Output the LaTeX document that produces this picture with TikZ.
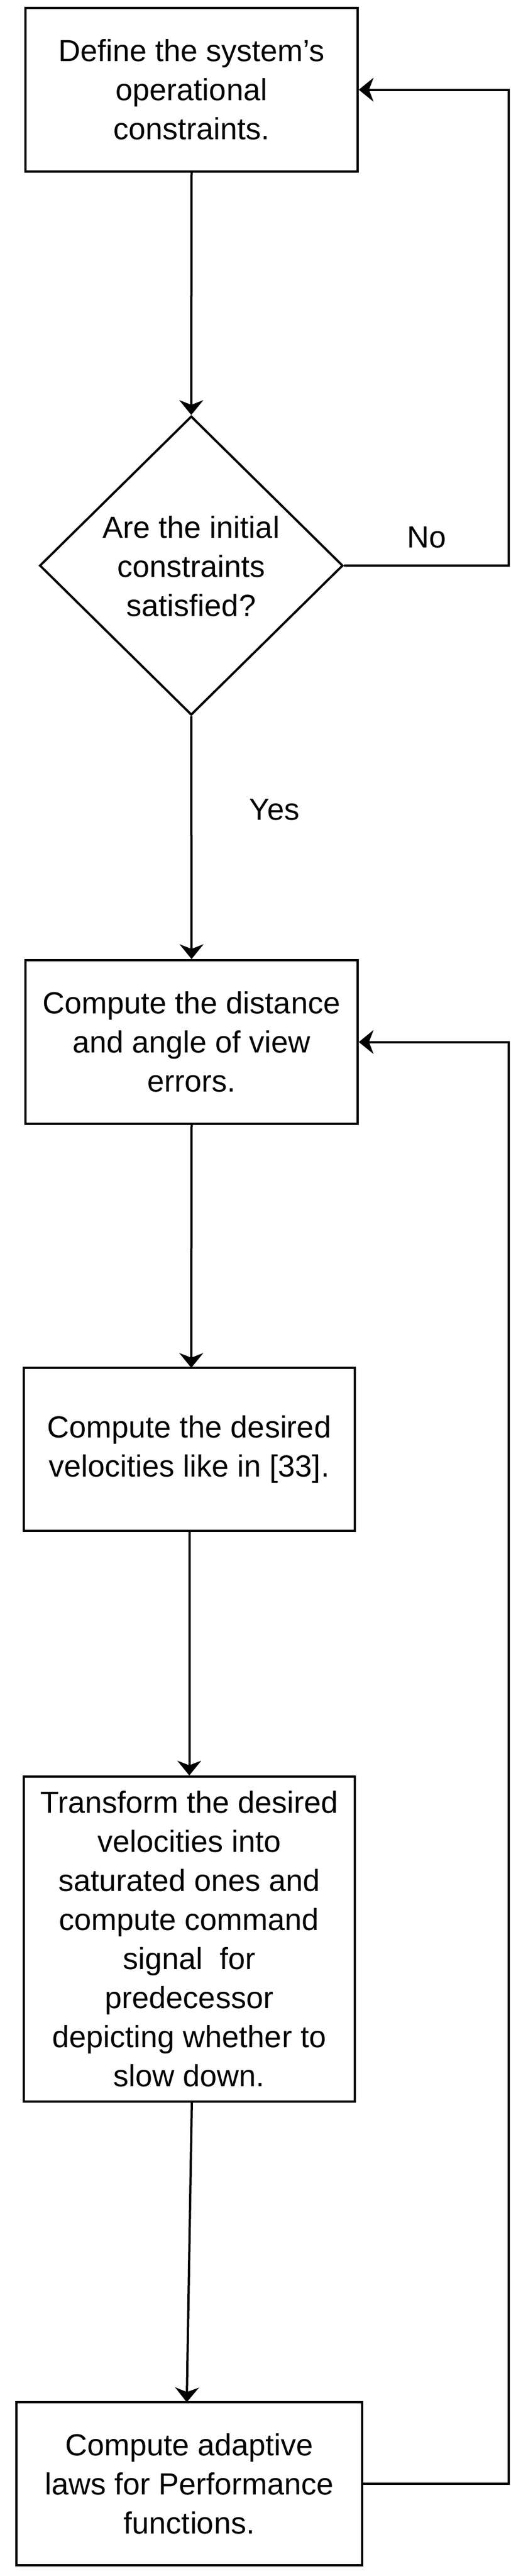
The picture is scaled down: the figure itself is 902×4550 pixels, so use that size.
\documentclass[tikz,border=0pt]{standalone}
\usepackage{fontspec}
\setmainfont{Liberation Sans}
\usetikzlibrary{arrows.meta,shapes.geometric}
\begin{document}
\begin{tikzpicture}[x=1pt,y=-1pt,
  box/.style={draw,line width=4pt,inner sep=0pt,font=\fontsize{54}{69}\selectfont,align=center},
  arr/.style={line width=4pt,-{Stealth[length=26pt,width=42pt,inset=8pt]}},
  lab/.style={font=\fontsize{54}{69}\selectfont}]
\useasboundingbox (0,0) rectangle (902,4550);
\node[box,minimum width=587pt,minimum height=289pt] (b1) at (338.5,158.5) {Define the system's\\operational\\constraints.};
\node[box,diamond,minimum width=536pt,minimum height=528pt,aspect=1.015] (d) at (338,999) {};
\node[lab,align=center] at (338,1000) {Are the initial\\constraints\\satisfied?};
\node[box,minimum width=587pt,minimum height=289pt] (b2) at (338.5,1840.5) {Compute the distance\\and angle of view\\errors.};
\node[box,minimum width=585pt,minimum height=288pt] (b3) at (334.5,2560) {Compute the desired\\velocities like in [33].};
\node[box,minimum width=585pt,minimum height=574pt] (b4) at (334.5,3425) {Transform the desired\\velocities into\\saturated ones and\\compute command\\signal \ for\\predecessor\\depicting whether to\\slow down.};
\node[box,minimum width=611pt,minimum height=288pt] (b5) at (334.5,4387) {Compute adaptive\\laws for Performance\\functions.};
\coordinate (r1) at (899,999);
\coordinate (r1t) at (899,158.5);
\coordinate (r2) at (899,4387);
\coordinate (r2t) at (899,1840.5);
\draw[arr] (b1.south) -- (d.north);
\draw[arr] (d.east) -- (r1) -- (r1t) -- (b1.east);
\node[lab] at (754,949) {No};
\draw[arr] (d.south) -- (b2.north);
\node[lab] at (485,1430) {Yes};
\draw[arr] (b2.south) -- (338,2416);
\draw[arr] (b3.south) -- (b4.north);
\draw[arr] (339,3712) -- (330,4243);
\draw[arr] (b5.east) -- (r2) -- (r2t) -- (b2.east);
\end{tikzpicture}
\end{document}
